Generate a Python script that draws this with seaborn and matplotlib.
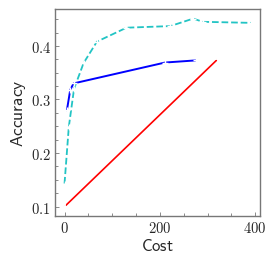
import matplotlib
matplotlib.use("Agg")
import matplotlib.pyplot as plt
import seaborn as sns
import pandas as pd
from matplotlib.ticker import AutoMinorLocator, FuncFormatter

# values
cost_dashed = [0, 9, 20, 40, 68, 130, 222, 270, 290, 392]
acc_dashed = [0.143, 0.249, 0.32, 0.368, 0.408, 0.434, 0.437, 0.451, 0.445, 0.443]
cost_blue = [5, 12, 19, 211, 276]
acc_blue = [0.28, 0.318, 0.33, 0.369, 0.373]
cost_red = [0, 321]
acc_red = [0.1, 0.375]

sns.set_style("white")
plt.rcParams['mathtext.fontset'] = 'cm'

fig = plt.figure(figsize=(2.74, 2.55), dpi=100)
ax = fig.add_axes([0.2007, 0.150, 0.748, 0.811])

df_d = pd.DataFrame({'cost': cost_dashed, 'acc': acc_dashed})
df_b = pd.DataFrame({'cost': cost_blue, 'acc': acc_blue})
df_r = pd.DataFrame({'cost': cost_red, 'acc': acc_red})

sns.lineplot(data=df_d, x='cost', y='acc', ax=ax, color='#22c4c4', linestyle='--',
             linewidth=1.3, marker='+', markersize=5, markeredgewidth=1, sort=False)
sns.lineplot(data=df_b, x='cost', y='acc', ax=ax, color='#0000ff', linewidth=1.4,
             marker='+', markersize=5, markeredgewidth=1, sort=False)
sns.lineplot(data=df_r, x='cost', y='acc', ax=ax, color='#ff0000', linewidth=1.2,
             marker='+', markersize=5, markeredgewidth=1.3, sort=False)

ax.set_xlim(-20, 410)
ax.set_ylim(0.083, 0.469)
ax.set_xticks([0, 200, 400])
ax.set_yticks([0.1, 0.2, 0.3, 0.4])
ax.xaxis.set_minor_locator(AutoMinorLocator(4))
ax.yaxis.set_minor_locator(AutoMinorLocator(4))
ax.xaxis.set_major_formatter(FuncFormatter(lambda v, p: f"${v:g}$"))
ax.yaxis.set_major_formatter(FuncFormatter(lambda v, p: f"${v:.1f}$"))
ax.tick_params(which='both', direction='in', bottom=True, left=True, labelsize=10.5,
               color='#777777', width=0.6, pad=3)
ax.tick_params(which='major', length=3)
ax.tick_params(which='minor', length=2)

ax.set_xlabel(r'$\mathsf{Cost}$', fontsize=12, labelpad=1)
ax.set_ylabel(r'$\mathsf{Accuracy}$', fontsize=12.5, labelpad=2)

for s in ax.spines.values():
    s.set_color('#777777')
    s.set_linewidth(1.0)

fig.savefig('out.png', dpi=100)
plt.close('all')
